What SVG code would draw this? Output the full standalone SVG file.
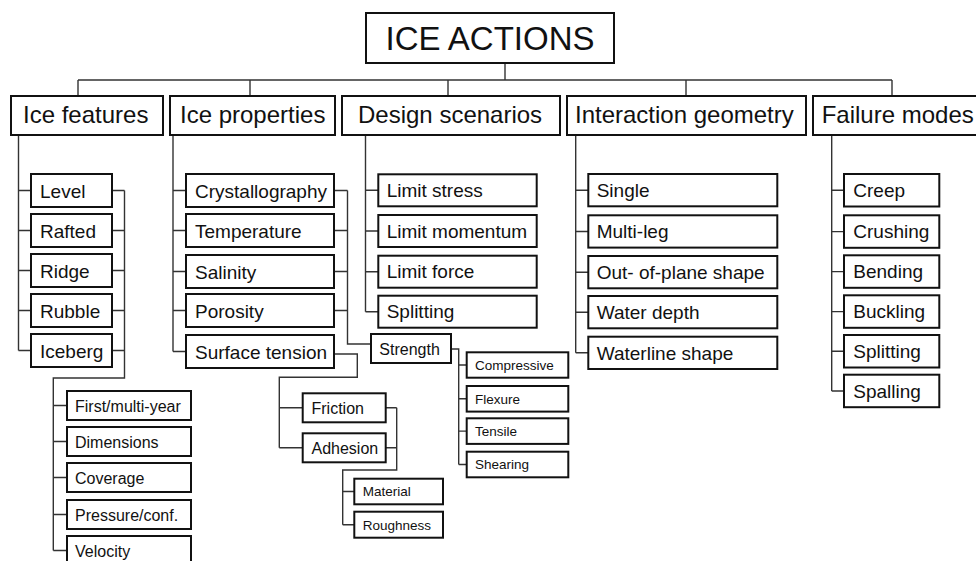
<svg xmlns="http://www.w3.org/2000/svg" width="976" height="561" viewBox="0 0 976 561">
<style>
text{font-family:"Liberation Sans",Arial,sans-serif;fill:#111}
.b{fill:#fff;stroke:#111;stroke-width:2}
.t0{font-size:33px}
.t1{font-size:24px}
.t2{font-size:19px}
.t3{font-size:16px}
.t4{font-size:13.5px}
#conn path{fill:none;stroke:#333;stroke-width:1.4}
</style>
<rect width="976" height="561" fill="#fff"/>
<g id="conn">
<path d="M505,63V80M78,80H892M78,80V96M250,80V96M448,80V96M686,80V96M892,80V96"/>
<path d="M18.5,135V350.5M18.5,190.5H31M18.5,230.5H31M18.5,270.5H31M18.5,310.5H31M18.5,350.5H31"/>
<path d="M112,190.5H124.5M112,230.5H124.5M112,270.5H124.5M112,310.5H124.5M112,350.5H124.5M124.5,190.5V378H53.3V550.5M53.3,405.5H67M53.3,441.5H67M53.3,477.5H67M53.3,514.5H67M53.3,550.5H67"/>
<path d="M173,135V351.5M173,190.5H186M173,230.5H186M173,271.5H186M173,310.5H186M173,351.5H186"/>
<path d="M334,190.5H347.5M334,230.5H347.5M334,271.5H347.5M334,310.5H347.5M347.5,190.5V344H371"/>
<path d="M334,354H357.3V377.3H279.3V447.8M279.3,407.8H302.7M279.3,447.8H302.7"/>
<path d="M385.7,407.8H396.7M385.7,447.8H396.7M396.7,407.8V470H342.7V524.7M342.7,491.5H354.3M342.7,524.7H354.3"/>
<path d="M451,349H458.7V464.5M458.7,365H466.7M458.7,398.8H466.7M458.7,431.1H466.7M458.7,464.5H466.7"/>
<path d="M365.5,135V311.7M365.5,190.3H378.3M365.5,231H378.3M365.5,271.7H378.3M365.5,311.7H378.3"/>
<path d="M575.7,135V352.8M575.7,190.2H588.3M575.7,231.5H588.3M575.7,272.2H588.3M575.7,312.2H588.3M575.7,352.8H588.3"/>
<path d="M831.7,135V391M831.7,190.3H844M831.7,231.6H844M831.7,271.6H844M831.7,311.6H844M831.7,351.3H844M831.7,391H844"/>
</g>
<g id="root"><rect class="b" x="366" y="13" width="248" height="50"/><text class="t0" x="490" y="50" text-anchor="middle">ICE ACTIONS</text></g>
<g id="cat-features"><rect class="b" x="11" y="96" width="152" height="39"/><text class="t1" x="23" y="123">Ice features</text></g>
<g id="cat-properties"><rect class="b" x="170" y="96" width="165" height="39"/><text class="t1" x="180" y="123">Ice properties</text></g>
<g id="cat-design"><rect class="b" x="342" y="96" width="218" height="39"/><text class="t1" x="358" y="123">Design scenarios</text></g>
<g id="cat-geometry"><rect class="b" x="567" y="96" width="239" height="39"/><text class="t1" x="575" y="123">Interaction geometry</text></g>
<g id="cat-failure"><rect class="b" x="813" y="96" width="200" height="39"/><text class="t1" x="821.7" y="123">Failure modes</text></g>

<g id="level"><rect class="b" x="31" y="174" width="81" height="33"/><text class="t2" x="40" y="197.5">Level</text></g>
<g id="rafted"><rect class="b" x="31" y="214" width="81" height="33"/><text class="t2" x="40" y="237.5">Rafted</text></g>
<g id="ridge"><rect class="b" x="31" y="254" width="81" height="33"/><text class="t2" x="40" y="277.5">Ridge</text></g>
<g id="rubble"><rect class="b" x="31" y="294" width="81" height="33"/><text class="t2" x="40" y="317.5">Rubble</text></g>
<g id="iceberg"><rect class="b" x="31" y="334" width="81" height="33"/><text class="t2" x="40" y="357.5">Iceberg</text></g>

<g id="firstmulti"><rect class="b" x="67" y="391" width="124" height="29"/><text class="t3" x="75" y="411.5">First/multi-year</text></g>
<g id="dimensions"><rect class="b" x="67" y="427" width="124" height="29"/><text class="t3" x="75" y="447.5">Dimensions</text></g>
<g id="coverage"><rect class="b" x="67" y="463" width="124" height="29"/><text class="t3" x="75" y="483.5">Coverage</text></g>
<g id="pressure"><rect class="b" x="67" y="500" width="124" height="29"/><text class="t3" x="75" y="520.5">Pressure/conf.</text></g>
<g id="velocity"><rect class="b" x="67" y="536" width="124" height="29"/><text class="t3" x="75" y="556.5">Velocity</text></g>

<g id="crystallography"><rect class="b" x="186" y="174" width="148" height="33"/><text class="t2" x="195" y="197.5">Crystallography</text></g>
<g id="temperature"><rect class="b" x="186" y="214" width="148" height="33"/><text class="t2" x="195" y="237.5">Temperature</text></g>
<g id="salinity"><rect class="b" x="186" y="255" width="148" height="33"/><text class="t2" x="195" y="278.5">Salinity</text></g>
<g id="porosity"><rect class="b" x="186" y="294" width="148" height="33"/><text class="t2" x="195" y="317.5">Porosity</text></g>
<g id="surfacetension"><rect class="b" x="186" y="335" width="148" height="33"/><text class="t2" x="195" y="358.5">Surface tension</text></g>

<g id="strength"><rect class="b" x="371" y="334" width="80" height="29"/><text class="t3" x="379.3" y="354.5">Strength</text></g>
<g id="compressive"><rect class="b" x="466.7" y="352.3" width="101.6" height="25.4"/><text class="t4" x="475" y="369.8">Compressive</text></g>
<g id="flexure"><rect class="b" x="466.7" y="386" width="101.6" height="25.6"/><text class="t4" x="475" y="403.6">Flexure</text></g>
<g id="tensile"><rect class="b" x="466.7" y="418.3" width="101.6" height="25.6"/><text class="t4" x="475" y="435.9">Tensile</text></g>
<g id="shearing"><rect class="b" x="466.7" y="451.7" width="101.6" height="25.6"/><text class="t4" x="475" y="469.3">Shearing</text></g>

<g id="friction"><rect class="b" x="302.7" y="393.3" width="83" height="29"/><text class="t3" x="311.5" y="413.8">Friction</text></g>
<g id="adhesion"><rect class="b" x="302.7" y="433.3" width="83" height="29"/><text class="t3" x="311.5" y="453.8">Adhesion</text></g>
<g id="material"><rect class="b" x="354.3" y="478.7" width="88.7" height="25.6"/><text class="t4" x="362.7" y="496.3">Material</text></g>
<g id="roughness"><rect class="b" x="354.3" y="511.7" width="88.7" height="26"/><text class="t4" x="362.7" y="529.5">Roughness</text></g>

<g id="limitstress"><rect class="b" x="378.3" y="174.3" width="158.4" height="32"/><text class="t2" x="386.7" y="197">Limit stress</text></g>
<g id="limitmomentum"><rect class="b" x="378.3" y="215" width="158.4" height="32"/><text class="t2" x="386.7" y="237.7">Limit momentum</text></g>
<g id="limitforce"><rect class="b" x="378.3" y="255.7" width="158.4" height="32"/><text class="t2" x="386.7" y="278.4">Limit force</text></g>
<g id="splitting-ds"><rect class="b" x="378.3" y="295.7" width="158.4" height="32"/><text class="t2" x="386.7" y="318.4">Splitting</text></g>

<g id="single"><rect class="b" x="588.3" y="174" width="189" height="32.3"/><text class="t2" x="596.7" y="197">Single</text></g>
<g id="multileg"><rect class="b" x="588.3" y="215.3" width="189" height="32.3"/><text class="t2" x="596.7" y="238.3">Multi-leg</text></g>
<g id="outofplane"><rect class="b" x="588.3" y="256" width="189" height="32.3"/><text class="t2" x="596.7" y="279">Out- of-plane shape</text></g>
<g id="waterdepth"><rect class="b" x="588.3" y="296" width="189" height="32.3"/><text class="t2" x="596.7" y="319">Water depth</text></g>
<g id="waterline"><rect class="b" x="588.3" y="336.7" width="189" height="32.3"/><text class="t2" x="596.7" y="359.6">Waterline shape</text></g>

<g id="creep"><rect class="b" x="844" y="174" width="95.3" height="32.5"/><text class="t2" x="853.3" y="197.1">Creep</text></g>
<g id="crushing"><rect class="b" x="844" y="215.3" width="95.3" height="32.5"/><text class="t2" x="853.3" y="238.4">Crushing</text></g>
<g id="bending"><rect class="b" x="844" y="255.3" width="95.3" height="32.5"/><text class="t2" x="853.3" y="278.4">Bending</text></g>
<g id="buckling"><rect class="b" x="844" y="295.3" width="95.3" height="32.5"/><text class="t2" x="853.3" y="318.4">Buckling</text></g>
<g id="splitting-fm"><rect class="b" x="844" y="335" width="95.3" height="32.5"/><text class="t2" x="853.3" y="358.1">Splitting</text></g>
<g id="spalling"><rect class="b" x="844" y="374.7" width="95.3" height="32.5"/><text class="t2" x="853.3" y="397.8">Spalling</text></g>
</svg>
